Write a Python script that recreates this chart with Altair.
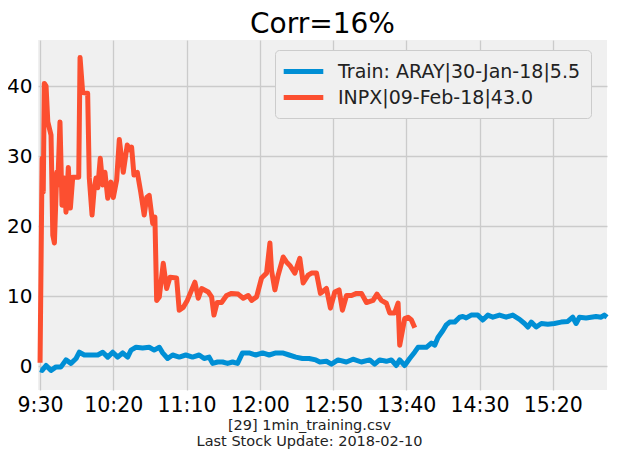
import json
import altair as alt
import pandas as pd

title_text = "Corr=16%"
train_label = "Train: ARAY|30-Jan-18|5.5"
test_label = "INPX|09-Feb-18|43.0"
tick_values = [0, 50, 100, 150, 200, 250, 300, 350]
tick_labels = ["9:30", "10:20", "11:10", "12:00", "12:50", "13:40", "14:30", "15:20"]
y_ticks = [0, 10, 20, 30, 40]
caption = ["[29] 1min_training.csv", "Last Stock Update: 2018-02-10"]

# minutes since 9:30
train_minutes = [0, 1.4, 4.1, 7.5, 10.9, 14.3, 17.7, 21.1, 24.6, 26.8, 30.2, 34.8, 39.4, 42.8, 46.2,
                 49.6, 53, 56.4, 59.8, 62.1, 65.5, 70, 74.5, 77.9, 81.4, 83.7, 87.1, 90.5, 95, 99.5,
                 104.1, 108.6, 112, 115.4, 117.8, 121.2, 124.6, 128, 131.4, 134.8, 138.2, 142.7,
                 147.3, 151.9, 156.4, 161, 165.5, 170, 174.6, 179.1, 183.6, 188.2, 191, 195.5, 198.9,
                 203.4, 209.1, 213.6, 219.3, 225, 228.4, 231.8, 236.4, 239.8, 243.2, 245.5, 248.9,
                 252.3, 255.7, 258, 263.7, 267.1, 269.4, 271.6, 275, 277.3, 279.6, 283, 286.4, 288.6,
                 290.9, 294.3, 298.8, 302.2, 305.7, 309.1, 313.6, 318.2, 322.7, 327.3, 330.7, 333,
                 335.3, 338.7, 342.2, 346.6, 351.1, 355.7, 360.2, 363.6, 365.9, 368.2, 372.7, 376.1,
                 379.5, 383, 385.2, 387]
train_values = [-0.5, -0.6, 0.1, -0.6, -0.1, -0.1, 0.9, 0.4, 1.1, 2.0, 1.6, 1.6, 1.6, 2.0, 1.3,
                2.0, 1.3, 1.9, 1.3, 2.3, 2.7, 2.6, 2.7, 2.3, 2.7, 1.9, 1.1, 1.6, 1.3, 1.6,
                1.3, 1.6, 1.1, 1.3, 0.4, 0.6, 0.6, 0.4, 0.6, 0.4, 1.9, 1.9,
                1.6, 1.9, 1.6, 1.9, 1.9, 1.6, 1.3, 1.1, 1.1, 0.9, 0.6, 0.7, 0.3,
                0.9, 0.6, 1.0, 0.6, 0.9, 0.3, 0.9, 0.7, 0.9, 0.1, 0.9, 0.1,
                1.1, 2.0, 2.7, 2.7, 3.3, 3.0, 4.1, 5.1, 5.9, 6.3, 6.3, 7.0, 7.1,
                6.9, 7.3, 7.3, 6.6, 7.3, 7.0, 7.3, 7.0, 7.3, 6.7, 6.1, 5.6,
                6.3, 5.6, 6.1, 6.0, 6.1, 6.3, 6.4, 7.0, 6.1, 7.0, 6.9, 7.0,
                7.1, 7.0, 7.3, 7.0]

test_minutes = [0, 1.4, 2.2, 2.9, 4.1, 5.3, 7.5, 8.7, 9.8, 11.4, 12.1, 13.6, 15, 16.6, 17.7, 19.3,
                20.7, 22.3, 24.6, 26.4, 27.3, 29.1, 32.5, 33.6, 35.5, 37, 38.2, 39.4, 41.1, 42.8,
                44.3, 46.2, 48.4, 50, 52.3, 54.1, 56.8, 59.5, 61.4, 62.5, 64.1, 66.4, 68.7, 71.1,
                72.8, 74.5, 76.9, 78.4, 79.6, 81.4, 84.1, 86.4, 88.7, 93.2, 95, 97.7, 100.5, 105.7,
                108, 110.3, 114.8, 117.1, 118.7, 120.9, 123.9, 127.3, 130.7, 135.2, 138.7, 142.1,
                144.4, 147.8, 151.2, 154.6, 156.9, 158, 160.3, 162.5, 166, 168.2, 170.5, 173.9,
                177.3, 179.6, 183, 185.3, 188.7, 191.4, 195.5, 198.2, 201.2, 204.1, 206.4, 209.2,
                212.6, 216, 219.4, 222.8, 227.3, 230, 233, 236.4, 238.7, 242, 244.4, 245.5, 248.9,
                251.2, 253.5, 255.8]
test_values = [0.5, 29.7, 24.9, 40.4, 40.0, 34.9, 33.0, 18.7, 17.6, 27.7, 25.9, 34.9, 23.0, 26.9, 22.0, 28.4,
               22.6, 27.0, 27.0, 27.0, 44.1, 39.1, 39.0, 26.9, 21.6, 25.4, 26.9, 25.5, 29.7, 25.9,
               27.7, 24.0, 26.3, 24.1, 26.6, 32.4, 27.7, 31.6, 30.9, 31.3, 27.3, 27.7, 24.9, 21.6,
               24.1, 24.4, 20.4, 21.3, 9.4, 9.9, 14.7, 11.1, 12.7, 12.6, 8.0, 8.4, 9.4, 12.0,
               9.7, 11.1, 10.6, 9.9, 7.3, 9.1, 9.1, 10.1, 10.4, 10.3, 9.7, 10.1,
               9.4, 9.9, 12.6, 13.3, 17.6, 13.7, 10.9, 13.0, 15.6, 14.9, 14.4, 13.3,
               15.4, 11.9, 13.0, 13.3, 13.3, 10.4, 11.1, 8.3, 10.6, 10.9, 8.0, 10.1,
               10.1, 10.4, 10.4, 9.1, 9.4, 10.3, 9.4, 9.0, 7.6, 7.6, 9.0, 3.0, 6.8,
               7.0, 6.6, 5.5]

rows = []
for i, (m, v) in enumerate(zip(train_minutes, train_values)):
    rows.append({"minute": m, "value": v, "series": train_label, "idx": i})
for i, (m, v) in enumerate(zip(test_minutes, test_values)):
    rows.append({"minute": m, "value": v, "series": test_label, "idx": i})
df = pd.DataFrame(rows)

label_expr = json.dumps(tick_labels) + "[round(datum.value / 50)]"

chart = alt.Chart(df).mark_line(strokeWidth=5, strokeJoin="round", strokeCap="butt").encode(
    x=alt.X("minute:Q",
            scale=alt.Scale(domain=[-1.4, 387], nice=False, zero=False),
            axis=alt.Axis(values=tick_values, labelExpr=label_expr, title=caption,
                          labelPadding=5, labelFontSize=20.5, titlePadding=3, titleFontSize=14.5,
                          titleFontWeight="normal", titleLineHeight=15.5,
                          titleX=271, titleAnchor="middle",
                          titleFont="DejaVu Sans", titleColor="#222222")),
    y=alt.Y("value:Q",
            scale=alt.Scale(domain=[-3.4, 46.6], nice=False, zero=False),
            axis=alt.Axis(values=y_ticks, title=None, labelPadding=6)),
    color=alt.Color("series:N",
                    scale=alt.Scale(domain=[train_label, test_label], range=["#008fd5", "#fc4f30"]),
                    legend=alt.Legend(title=None, orient="none", legendX=237, legendY=10,
                                      fillColor="#f0f0f0", strokeColor="#cccccc", cornerRadius=4,
                                      padding=10, symbolType="M-2.2,0L2.2,0", symbolSize=324,
                                      symbolStrokeWidth=5, symbolOffset=7, labelOffset=23,
                                      labelFontSize=19, labelFont="DejaVu Sans", labelColor="#222222",
                                      labelLimit=0, rowPadding=4)),
    order="idx:Q",
).properties(
    width=569, height=350,
    title=alt.TitleParams(title_text, fontSize=28, font="DejaVu Sans", fontWeight="normal",
                          anchor="middle", offset=1, color="#000000"),
    autosize=alt.AutoSizeParams(type="none"),
    padding={"left": 30, "top": 32, "right": 2, "bottom": 60},
    background="#ffffff",
).configure_view(
    fill="#f0f0f0", strokeWidth=0
).configure_axis(
    domain=False, ticks=False, gridColor="#cbcbcb", gridWidth=1.3,
    labelFont="DejaVu Sans", labelFontSize=20, labelColor="#000000"
)

chart.save("out.html", embed_options={"renderer": "svg", "actions": False})
